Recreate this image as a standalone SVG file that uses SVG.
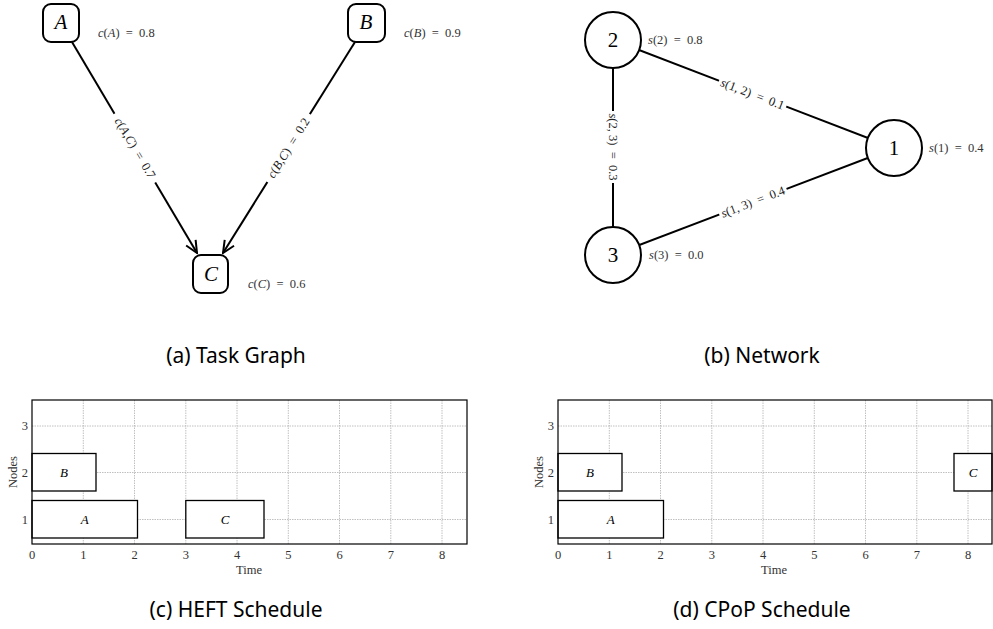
<svg xmlns="http://www.w3.org/2000/svg" width="993" height="629" viewBox="0 0 993 629">
<style>
.nodebox{fill:#fff;stroke:#000;stroke-width:2}
.circ{fill:#fff;stroke:#000;stroke-width:2}
.edge{stroke:#000;stroke-width:2;fill:none}
.big{font-family:"Liberation Serif",serif;font-size:21px;fill:#000;text-anchor:middle;dominant-baseline:central}
.ital{font-style:italic}
.small{font-family:"Liberation Serif",serif;font-size:12.5px;fill:#333;dominant-baseline:central;white-space:pre}
.lbl{font-family:"Liberation Serif",serif;font-size:12.5px;fill:#222;text-anchor:middle;dominant-baseline:central;white-space:pre}
.cap{font-family:"Noto Sans","Open Sans",sans-serif;font-size:21px;fill:#000;text-anchor:middle}
.grid{stroke:#b0b0b0;stroke-width:0.8;stroke-dasharray:1.5,1}
.axis{fill:none;stroke:#000;stroke-width:1.2}
.bar{fill:#fff;stroke:#000;stroke-width:1.3}
.tick{font-family:"Liberation Serif",serif;font-size:12.5px;fill:#333;text-anchor:middle}
.ylab{font-family:"Liberation Serif",serif;font-size:12.5px;fill:#333;text-anchor:end;dominant-baseline:central}
.barlbl{font-family:"Liberation Serif",serif;font-style:italic;font-size:13px;fill:#000;text-anchor:middle;dominant-baseline:central}
</style>
<defs>
<marker id="arr" viewBox="0 0 14 14" refX="13" refY="7" markerWidth="14" markerHeight="14" markerUnits="userSpaceOnUse" orient="auto">
<path d="M1,1.5 L13,7 L1,12.5" fill="none" stroke="#000" stroke-width="2"/>
</marker>
</defs>

<!-- (a) Task graph -->
<g id="connectors-a">
<line class="edge" x1="72" y1="42" x2="197" y2="253" marker-end="url(#arr)"/>
<line class="edge" x1="355" y1="42" x2="223" y2="253" marker-end="url(#arr)"/>
<g transform="translate(135,148) rotate(59.4)">
<rect x="-40" y="-8" width="80" height="16" fill="#fff"/>
<text class="lbl" x="0" y="0"><tspan class="ital">c</tspan>(<tspan class="ital">A,C</tspan>)  =  0.7</text>
</g>
<g transform="translate(288.5,148) rotate(-58)">
<rect x="-40" y="-8" width="80" height="16" fill="#fff"/>
<text class="lbl" x="0" y="0"><tspan class="ital">c</tspan>(<tspan class="ital">B,C</tspan>)  =  0.2</text>
</g>
</g>
<g id="task-A">
<rect class="nodebox" x="43" y="4" width="36" height="38" rx="8"/>
<text class="big ital" x="61" y="22">A</text>
<text class="small" x="98" y="33"><tspan class="ital">c</tspan>(<tspan class="ital">A</tspan>)  =  0.8</text>
</g>
<g id="task-B">
<rect class="nodebox" x="348" y="4" width="37" height="38" rx="8"/>
<text class="big ital" x="366" y="22">B</text>
<text class="small" x="404" y="33"><tspan class="ital">c</tspan>(<tspan class="ital">B</tspan>)  =  0.9</text>
</g>
<g id="task-C">
<rect class="nodebox" x="193" y="255" width="35" height="38" rx="8"/>
<text class="big ital" x="211" y="274">C</text>
<text class="small" x="248" y="284"><tspan class="ital">c</tspan>(<tspan class="ital">C</tspan>)  =  0.6</text>
</g>
<text class="cap" x="236" y="363">(a) Task Graph</text>

<!-- (b) Network -->
<g id="connectors-b">
<line class="edge" x1="613" y1="40" x2="894" y2="148"/>
<line class="edge" x1="613" y1="40" x2="613" y2="255"/>
<line class="edge" x1="894" y1="148" x2="613" y2="255"/>
<g transform="translate(752.5,94) rotate(21)">
<rect x="-36" y="-8" width="72" height="16" fill="#fff"/>
<text class="lbl" x="0" y="0"><tspan class="ital">s</tspan>(1, 2)  =  0.1</text>
</g>
<g transform="translate(613,147) rotate(90)">
<rect x="-36" y="-8" width="72" height="16" fill="#fff"/>
<text class="lbl" x="0" y="0"><tspan class="ital">s</tspan>(2, 3)  =  0.3</text>
</g>
<g transform="translate(753,202) rotate(-20.8)">
<rect x="-36" y="-8" width="72" height="16" fill="#fff"/>
<text class="lbl" x="0" y="0"><tspan class="ital">s</tspan>(1, 3)  =  0.4</text>
</g>
</g>
<g id="net-1">
<circle class="circ" cx="894" cy="148" r="28"/>
<text class="big" x="894" y="148">1</text>
<text class="small" x="929" y="148"><tspan class="ital">s</tspan>(1)  =  0.4</text>
</g>
<g id="net-2">
<circle class="circ" cx="613" cy="40" r="28"/>
<text class="big" x="613" y="40">2</text>
<text class="small" x="648" y="40"><tspan class="ital">s</tspan>(2)  =  0.8</text>
</g>
<g id="net-3">
<circle class="circ" cx="613" cy="255" r="28"/>
<text class="big" x="613" y="255">3</text>
<text class="small" x="649" y="255"><tspan class="ital">s</tspan>(3)  =  0.0</text>
</g>
<text class="cap" x="762" y="363">(b) Network</text>

<!-- (c) HEFT schedule -->
<g id="heft-chart">
<g class="grid-lines">
<line class="grid" x1="83.3" y1="400" x2="83.3" y2="544"/>
<line class="grid" x1="134.5" y1="400" x2="134.5" y2="544"/>
<line class="grid" x1="185.8" y1="400" x2="185.8" y2="544"/>
<line class="grid" x1="237" y1="400" x2="237" y2="544"/>
<line class="grid" x1="288.3" y1="400" x2="288.3" y2="544"/>
<line class="grid" x1="339.5" y1="400" x2="339.5" y2="544"/>
<line class="grid" x1="390.8" y1="400" x2="390.8" y2="544"/>
<line class="grid" x1="442" y1="400" x2="442" y2="544"/>
<line class="grid" x1="32" y1="426" x2="467" y2="426"/>
<line class="grid" x1="32" y1="472.5" x2="467" y2="472.5"/>
<line class="grid" x1="32" y1="519.5" x2="467" y2="519.5"/>
</g>
<g id="heft-B"><rect class="bar" x="32" y="453.5" width="64" height="37.5"/><text class="barlbl" x="64" y="472.5">B</text></g>
<g id="heft-A"><rect class="bar" x="32" y="500.5" width="105.5" height="37.5"/><text class="barlbl" x="84.8" y="519.5">A</text></g>
<g id="heft-C"><rect class="bar" x="185.8" y="500.5" width="78.2" height="37.5"/><text class="barlbl" x="225" y="519.5">C</text></g>
<rect class="axis" x="32" y="400" width="435" height="144"/>
<g>
<text class="tick" x="32" y="559">0</text>
<text class="tick" x="83.3" y="559">1</text>
<text class="tick" x="134.5" y="559">2</text>
<text class="tick" x="185.8" y="559">3</text>
<text class="tick" x="237" y="559">4</text>
<text class="tick" x="288.3" y="559">5</text>
<text class="tick" x="339.5" y="559">6</text>
<text class="tick" x="390.8" y="559">7</text>
<text class="tick" x="442" y="559">8</text>
<text class="ylab" x="28" y="426">3</text>
<text class="ylab" x="28" y="472.5">2</text>
<text class="ylab" x="28" y="519.5">1</text>
<text class="tick" x="249" y="574">Time</text>
<text class="tick" transform="translate(17,472) rotate(-90)">Nodes</text>
</g>
</g>
<text class="cap" x="236" y="617">(c) HEFT Schedule</text>

<!-- (d) CPoP schedule -->
<g id="cpop-chart">
<g class="grid-lines">
<line class="grid" x1="609.3" y1="400" x2="609.3" y2="544"/>
<line class="grid" x1="660.5" y1="400" x2="660.5" y2="544"/>
<line class="grid" x1="711.8" y1="400" x2="711.8" y2="544"/>
<line class="grid" x1="763" y1="400" x2="763" y2="544"/>
<line class="grid" x1="814.3" y1="400" x2="814.3" y2="544"/>
<line class="grid" x1="865.5" y1="400" x2="865.5" y2="544"/>
<line class="grid" x1="916.8" y1="400" x2="916.8" y2="544"/>
<line class="grid" x1="968" y1="400" x2="968" y2="544"/>
<line class="grid" x1="558" y1="426" x2="992" y2="426"/>
<line class="grid" x1="558" y1="472.5" x2="992" y2="472.5"/>
<line class="grid" x1="558" y1="519.5" x2="992" y2="519.5"/>
</g>
<g id="cpop-B"><rect class="bar" x="558" y="453.5" width="64" height="37.5"/><text class="barlbl" x="590" y="472.5">B</text></g>
<g id="cpop-A"><rect class="bar" x="558" y="500.5" width="105.5" height="37.5"/><text class="barlbl" x="610.8" y="519.5">A</text></g>
<g id="cpop-C"><rect class="bar" x="954" y="453.5" width="38" height="37.5"/><text class="barlbl" x="973" y="472.5">C</text></g>
<rect class="axis" x="558" y="400" width="434" height="144"/>
<g>
<text class="tick" x="558" y="559">0</text>
<text class="tick" x="609.3" y="559">1</text>
<text class="tick" x="660.5" y="559">2</text>
<text class="tick" x="711.8" y="559">3</text>
<text class="tick" x="763" y="559">4</text>
<text class="tick" x="814.3" y="559">5</text>
<text class="tick" x="865.5" y="559">6</text>
<text class="tick" x="916.8" y="559">7</text>
<text class="tick" x="968" y="559">8</text>
<text class="ylab" x="554" y="426">3</text>
<text class="ylab" x="554" y="472.5">2</text>
<text class="ylab" x="554" y="519.5">1</text>
<text class="tick" x="774" y="574">Time</text>
<text class="tick" transform="translate(543,472) rotate(-90)">Nodes</text>
</g>
</g>
<text class="cap" x="762" y="617">(d) CPoP Schedule</text>
</svg>
